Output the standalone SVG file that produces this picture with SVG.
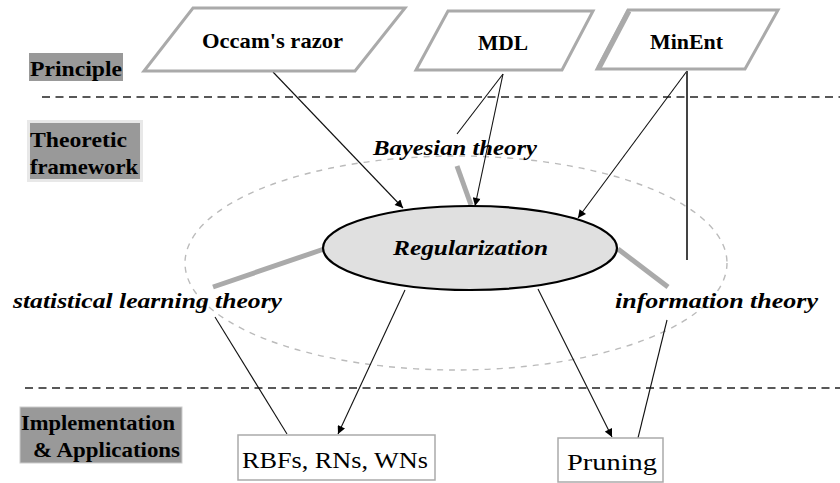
<svg xmlns="http://www.w3.org/2000/svg" width="840" height="483" viewBox="0 0 840 483" font-family="Liberation Serif, DejaVu Serif, serif">
<style>
.bg{fill:#fff}
.para{fill:#fff;stroke:#aaa;stroke-width:3}
.box{fill:#fff;stroke:#aaa;stroke-width:1.5}
.lab{fill:#999}
.sep{stroke:#222;stroke-width:1.6;stroke-dasharray:8 5.5;fill:none}
.halo{fill:none;stroke:#bbb;stroke-width:1.4;stroke-dasharray:6 6}
.ln{stroke:#111;stroke-width:1.1;fill:none}
.ar{stroke:#111;stroke-width:1.1;fill:none;marker-end:url(#ah)}
.thick{stroke:#aaa;stroke-width:5;fill:none}
.b{font-weight:bold;font-size:22px;fill:#000}
.i{font-style:italic;font-weight:bold;font-size:22px;fill:#000}
.r{font-size:24px;fill:#000}
</style>
<defs>
<marker id="ah" viewBox="0 0 10 10" refX="10" refY="5" markerWidth="9" markerHeight="8" markerUnits="userSpaceOnUse" orient="auto">
<path d="M0,0 L10,5 L0,10 z" fill="#000"/>
</marker>
</defs>
<rect class="bg" x="0" y="0" width="840" height="483"/>

<g id="layers">
<line class="sep" x1="42" y1="97" x2="840" y2="97"/>
<line class="sep" x1="25" y1="388" x2="840" y2="388"/>
<ellipse class="halo" cx="456" cy="263" rx="271" ry="107"/>
</g>

<g id="label-principle">
<rect class="lab" x="29" y="53" width="94" height="28"/>
<text class="b" font-family="Liberation Serif, serif" x="30" y="76" textLength="92" lengthAdjust="spacingAndGlyphs">Principle</text>
</g>
<g id="label-theoretic">
<rect x="27" y="120" width="116" height="62" fill="#e8e8e8"/>
<rect class="lab" x="30" y="123" width="110" height="56"/>
<text class="b" font-family="Liberation Serif, serif" x="30" y="147" textLength="97" lengthAdjust="spacingAndGlyphs">Theoretic</text>
<text class="b" font-family="Liberation Serif, serif" x="30" y="174" textLength="108" lengthAdjust="spacingAndGlyphs">framework</text>
</g>
<g id="label-implementation">
<rect class="lab" x="20" y="407" width="162" height="56" stroke="#ccc" stroke-width="1"/>
<text class="b" font-family="Liberation Serif, serif" x="21" y="430" textLength="154" lengthAdjust="spacingAndGlyphs">Implementation</text>
<text class="b" font-family="Liberation Serif, serif" x="33" y="457" textLength="147" lengthAdjust="spacingAndGlyphs">&amp; Applications</text>
</g>

<g id="connectors">
<line class="thick" x1="324" y1="249" x2="213" y2="287"/>
<line class="thick" x1="618" y1="249" x2="668" y2="287"/>
<line class="thick" x1="457" y1="166" x2="471" y2="205"/>
<line class="ar" x1="273" y1="72" x2="403" y2="208"/>
<line class="ln" x1="503" y1="74" x2="457" y2="134"/>
<line class="ar" x1="503" y1="74" x2="475" y2="206"/>
<line class="ar" x1="687" y1="71" x2="578" y2="218"/>
<line x1="687" y1="71" x2="687" y2="260" stroke="#444" stroke-width="2"/>
<line class="ln" x1="215" y1="317" x2="287" y2="434"/>
<line class="ar" x1="405" y1="290" x2="338" y2="434"/>
<line class="ar" x1="538" y1="289" x2="612" y2="437"/>
<line class="ln" x1="667" y1="320" x2="638" y2="438"/>
</g>

<g id="occam">
<polygon class="para" points="193,8 405,8 355,71 144,71"/>
<text class="b" font-family="Liberation Serif, serif" x="202" y="48" textLength="141" lengthAdjust="spacingAndGlyphs">Occam's razor</text>
</g>
<g id="mdl">
<polygon class="para" points="448,11 593,11 562,70 416,70"/>
<text class="b" font-family="Liberation Serif, serif" x="478" y="50" textLength="50" lengthAdjust="spacingAndGlyphs">MDL</text>
</g>
<g id="minent">
<polygon class="para" points="628,10 778,10 745,69 597,69"/>
<line x1="629" y1="11" x2="599" y2="68" stroke="#aaa" stroke-width="5"/>
<text class="b" font-family="Liberation Serif, serif" x="650" y="49" textLength="73" lengthAdjust="spacingAndGlyphs">MinEnt</text>
</g>

<g id="regularization">
<ellipse cx="470" cy="248" rx="147" ry="42" fill="#e0e0e0" stroke="#000" stroke-width="2.2"/>
<text class="i" font-family="Liberation Serif, serif" x="393" y="255" textLength="155" lengthAdjust="spacingAndGlyphs">Regularization</text>
</g>
<g id="bayesian">
<text class="i" font-family="Liberation Serif, serif" x="373" y="155" textLength="164" lengthAdjust="spacingAndGlyphs">Bayesian theory</text>
</g>
<g id="slt">
<text class="i" font-family="Liberation Serif, serif" x="13" y="308" textLength="269" lengthAdjust="spacingAndGlyphs">statistical learning theory</text>
</g>
<g id="info">
<text class="i" font-family="Liberation Serif, serif" x="615" y="308" textLength="203" lengthAdjust="spacingAndGlyphs">information theory</text>
</g>

<g id="rbfs">
<rect class="box" x="238" y="435" width="197" height="45"/>
<text class="r" font-family="Liberation Serif, serif" x="242" y="468" textLength="186" lengthAdjust="spacingAndGlyphs">RBFs, RNs, WNs</text>
</g>
<g id="pruning">
<rect class="box" x="558" y="438" width="105" height="44"/>
<text class="r" font-family="Liberation Serif, serif" x="567" y="470" textLength="90" lengthAdjust="spacingAndGlyphs">Pruning</text>
</g>
</svg>
